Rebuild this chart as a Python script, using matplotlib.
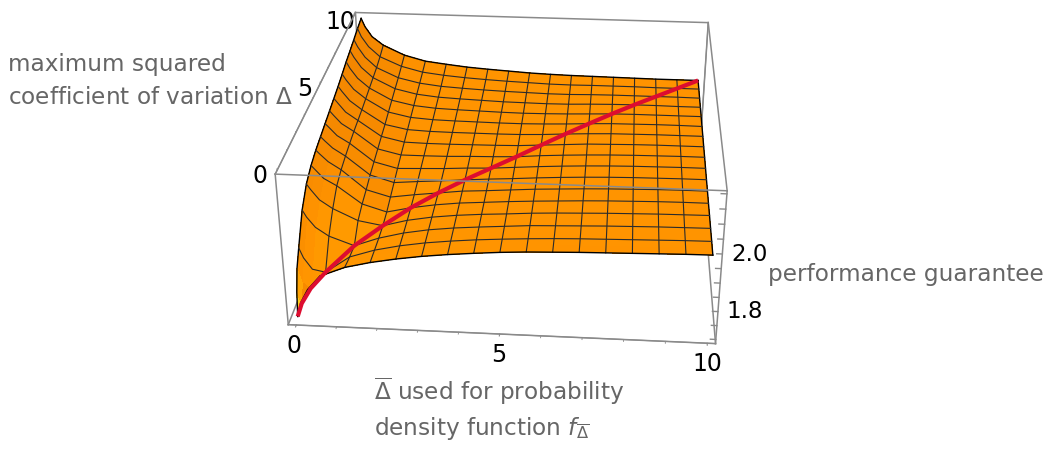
import numpy as np
import matplotlib
matplotlib.use("Agg")
import matplotlib.pyplot as plt
from matplotlib.colors import LinearSegmentedColormap
from matplotlib.ticker import FixedLocator
from mpl_toolkits.mplot3d import proj3d

# nodes of the table, 0.1 and 0.3 only follow the steep corner (no mesh line there)
delta_bar = [0, 0.1, 0.3, 0.625, 1.25, 1.875, 2.5, 3.125, 3.75, 4.375, 5,
             5.625, 6.25, 6.875, 7.5, 8.125, 8.75, 9.375, 10]
delta = [0, 0.1, 0.3, 0.625, 1.25, 1.875, 2.5, 3.125, 3.75, 4.375, 5,
         5.625, 6.25, 6.875, 7.5, 8.125, 8.75, 9.375, 10]
no_mesh = [0.1, 0.3]

# performance guarantee, one row per delta_bar, values along delta
guarantee = [
    [1.700, 1.780, 1.850, 1.900, 1.990, 2.040, 2.065, 2.080, 2.090, 2.100, 2.110, 2.120, 2.130, 2.142, 2.155, 2.165, 2.176, 2.188, 2.197],
    [1.750, 1.740, 1.800, 1.865, 1.965, 2.020, 2.050, 2.066, 2.076, 2.086, 2.094, 2.103, 2.111, 2.120, 2.130, 2.140, 2.148, 2.156, 2.165],
    [1.800, 1.790, 1.780, 1.825, 1.930, 1.985, 2.020, 2.040, 2.050, 2.057, 2.064, 2.070, 2.077, 2.085, 2.093, 2.101, 2.108, 2.117, 2.125],
    [1.850, 1.842, 1.828, 1.816, 1.900, 1.955, 1.995, 2.012, 2.022, 2.030, 2.036, 2.040, 2.044, 2.050, 2.056, 2.062, 2.068, 2.078, 2.092],
    [1.885, 1.884, 1.880, 1.875, 1.869, 1.915, 1.932, 1.942, 1.955, 1.964, 1.973, 1.982, 1.990, 2.001, 2.011, 2.021, 2.030, 2.042, 2.054],
    [1.906, 1.906, 1.905, 1.903, 1.900, 1.900, 1.906, 1.918, 1.930, 1.942, 1.953, 1.963, 1.973, 1.983, 1.993, 2.002, 2.011, 2.021, 2.032],
    [1.922, 1.922, 1.922, 1.922, 1.922, 1.923, 1.925, 1.930, 1.937, 1.945, 1.953, 1.961, 1.969, 1.977, 1.985, 1.993, 2.001, 2.011, 2.022],
    [1.935, 1.935, 1.935, 1.936, 1.937, 1.938, 1.939, 1.940, 1.943, 1.948, 1.954, 1.961, 1.968, 1.975, 1.982, 1.989, 1.996, 2.004, 2.013],
    [1.945, 1.945, 1.945, 1.946, 1.947, 1.948, 1.949, 1.950, 1.950, 1.953, 1.957, 1.962, 1.968, 1.974, 1.980, 1.986, 1.992, 1.999, 2.007],
    [1.953, 1.953, 1.953, 1.954, 1.954, 1.955, 1.955, 1.955, 1.956, 1.956, 1.959, 1.963, 1.968, 1.973, 1.978, 1.983, 1.989, 1.995, 2.002],
    [1.960, 1.960, 1.960, 1.960, 1.960, 1.960, 1.961, 1.961, 1.961, 1.962, 1.962, 1.965, 1.969, 1.973, 1.977, 1.982, 1.987, 1.992, 1.997],
    [1.965, 1.965, 1.965, 1.965, 1.966, 1.966, 1.966, 1.967, 1.967, 1.968, 1.969, 1.970, 1.972, 1.975, 1.978, 1.981, 1.985, 1.989, 1.994],
    [1.968, 1.968, 1.968, 1.969, 1.969, 1.970, 1.970, 1.971, 1.972, 1.973, 1.974, 1.975, 1.977, 1.978, 1.980, 1.982, 1.985, 1.988, 1.992],
    [1.971, 1.971, 1.971, 1.972, 1.972, 1.973, 1.974, 1.975, 1.976, 1.977, 1.978, 1.980, 1.981, 1.982, 1.983, 1.985, 1.987, 1.989, 1.991],
    [1.973, 1.973, 1.973, 1.974, 1.975, 1.976, 1.977, 1.978, 1.979, 1.980, 1.981, 1.982, 1.984, 1.985, 1.986, 1.987, 1.988, 1.989, 1.990],
    [1.975, 1.975, 1.975, 1.976, 1.977, 1.978, 1.979, 1.980, 1.981, 1.982, 1.983, 1.984, 1.985, 1.986, 1.987, 1.988, 1.988, 1.989, 1.989],
    [1.977, 1.977, 1.977, 1.978, 1.979, 1.980, 1.981, 1.982, 1.982, 1.983, 1.984, 1.985, 1.986, 1.987, 1.987, 1.988, 1.988, 1.988, 1.988],
    [1.979, 1.979, 1.979, 1.980, 1.980, 1.981, 1.982, 1.983, 1.983, 1.984, 1.985, 1.985, 1.986, 1.987, 1.987, 1.987, 1.988, 1.988, 1.988],
    [1.980, 1.980, 1.980, 1.981, 1.981, 1.982, 1.982, 1.983, 1.983, 1.984, 1.985, 1.985, 1.986, 1.986, 1.987, 1.987, 1.987, 1.988, 1.988],
]

x_ticks = [0, 5, 10]
y_ticks = [0, 5, 10]
z_ticks = [1.8, 2.0]
z_tick_labels = ["1.8", "2.0"]
x_minor = [1, 2, 3, 4, 6, 7, 8, 9]
y_minor = [1, 2, 3, 4, 6, 7, 8, 9]
z_minor = [1.7, 1.75, 1.85, 1.9, 1.95, 2.05, 2.1, 2.15, 2.2]

xlim = (-0.2, 10.2)
ylim = (-0.2, 10.2)
zlim = (1.685, 2.21)

gray = "#666666"
box_col = "#8a8a8a"

fig = plt.figure(figsize=(10.5, 4.53), dpi=100)
# axes bigger than the figure height so nothing gets cut at the axes box
ax = fig.add_axes([157 / 1050, -67 / 453, 700 / 1050, 700 / 453], projection="3d", computed_zorder=False)
ax.patch.set_alpha(0)
ax.set_proj_type("persp", focal_length=0.376)
ax.view_init(elev=27, azim=-85.5)
ax.set_box_aspect((1, 1, 0.4), zoom=0.79)

X, Y = np.meshgrid(delta_bar, delta, indexing="ij")
Z = np.array(guarantee)

# rough lighting from the slopes, yellow on the front slope, darker on the ridge
zx = np.gradient(Z, delta_bar, axis=0) * 7.9
zy = np.gradient(Z, delta, axis=1) * 7.9
norm = np.sqrt(zx**2 + zy**2 + 1)
t = np.clip(0.5 + 0.5 * zy / norm + 0.3 * zx / norm, 0, 1)
cmap = LinearSegmentedColormap.from_list("surf", [(0, "#e57800"), (0.5, "#ff9300"), (0.72, "#ff9c00"), (1, "#ffcc1a")])

ax.plot_surface(X, Y, Z, facecolors=cmap(t), rstride=1, cstride=1, shade=False,
                linewidth=0, antialiased=False, zorder=2)

# mesh
for i, v in enumerate(delta_bar):
    if v not in no_mesh:
        edge = v in (delta_bar[0], delta_bar[-1])
        ax.plot(X[i, :], Y[i, :], Z[i, :], color="black" if edge else "#2b2b2b",
                lw=1.0 if edge else 0.8, zorder=3)
for j, v in enumerate(delta):
    if v not in no_mesh:
        edge = v in (delta[0], delta[-1])
        ax.plot(X[:, j], Y[:, j], Z[:, j], color="black" if edge else "#2b2b2b",
                lw=1.0 if edge else 0.8, zorder=3)

# red line where delta_bar equals delta
ax.plot(X.diagonal(), Y.diagonal(), Z.diagonal(), color="#dd0d30", lw=3, zorder=4,
        solid_capstyle="butt")

# box
for a in xlim:
    for b in ylim:
        ax.plot([a, a], [b, b], zlim, color=box_col, lw=1.1, zorder=1)
    for c in zlim:
        ax.plot([a, a], ylim, [c, c], color=box_col, lw=1.1, zorder=1)
for b in ylim:
    for c in zlim:
        zo = 5 if (b == ylim[0] and c == zlim[1]) else 1
        ax.plot(xlim, [b, b], [c, c], color=box_col, lw=1.1, zorder=zo)

ax.set_xlim(*xlim, view_margin=0)
ax.set_ylim(*ylim, view_margin=0)
ax.set_zlim(*zlim, view_margin=0)
ax.grid(False)

ax.set_xticks(x_ticks)
ax.set_yticks(y_ticks)
ax.xaxis.set_minor_locator(FixedLocator(x_minor))
ax.yaxis.set_minor_locator(FixedLocator(y_minor))
ax.yaxis.set_ticks_position("upper")

for axis in (ax.xaxis, ax.yaxis, ax.zaxis):
    axis.set_pane_color((1, 1, 1, 0))
    axis.pane.set_edgecolor("none")
    axis.line.set_color(box_col)
    axis._axinfo["tick"]["inward_factor"] = 0.1
    axis._axinfo["tick"]["outward_factor"] = 0.0
ax.tick_params(axis="both", which="both", color=box_col, labelsize=17, labelcolor="black", pad=3)
ax.tick_params(axis="x", which="both", pad=-2)
ax.tick_params(axis="y", which="both", pad=2)

# matplotlib will not put the z axis on the front right edge, so do that one by hand
ax.set_zticks([])
for v in z_ticks + z_minor:
    ax.plot([xlim[1], xlim[1] - 0.13], [ylim[0], ylim[0]], [v, v], color=box_col, lw=1, zorder=1)
for v, s in zip(z_ticks, z_tick_labels):
    px, py, _ = proj3d.proj_transform(xlim[1] + 0.2, ylim[0], v, ax.get_proj())
    ax.text2D(px, py, s, transform=ax.transData, fontsize=16.5, color="black", ha="left", va="center")

fig.text(8 / 1050, 1 - 64 / 453, "maximum squared", color=gray, fontsize=16.7, va="center")
fig.text(8 / 1050, 1 - 97 / 453, "coefficient of variation $\\Delta$", color=gray, fontsize=16.7, va="center")
fig.text(768 / 1050, 1 - 275 / 453, "performance guarantee", color=gray, fontsize=16.7, va="center")
fig.text(374 / 1050, 1 - 391 / 453, "$\\overline{\\Delta}$ used for probability", color=gray, fontsize=16.7, va="center")
fig.text(374 / 1050, 1 - 428 / 453, "density function $f_{\\overline{\\Delta}}$", color=gray, fontsize=16.7, va="center")

fig.savefig("out.png", dpi=100)
